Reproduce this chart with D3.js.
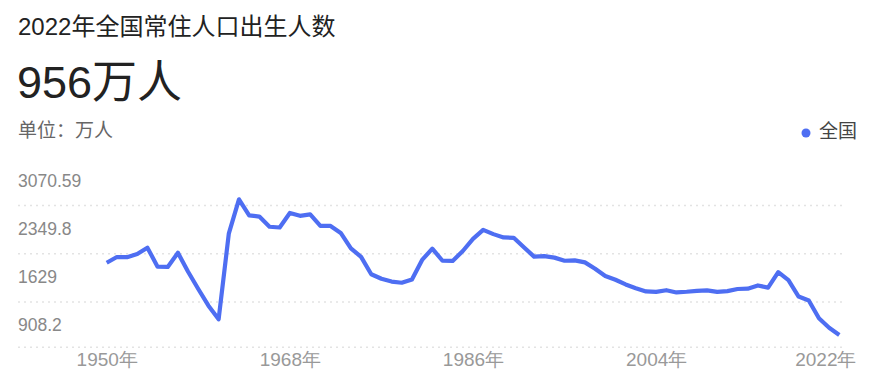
<!DOCTYPE html>
<html>
<head>
<meta charset="utf-8">
<script src="https://cdn.jsdelivr.net/npm/d3@7"></script>
<style>
  body { margin: 0; background: #fff; }
  svg { display: block; font-family: "Liberation Sans", Arial, "Noto Sans CJK SC", sans-serif; }
</style>
</head>
<body>
<script>
// 全国常住人口出生人数 1950-2022 (万人)

const years = [
  1950, 1951, 1952, 1953, 1954, 1955, 1956, 1957, 1958, 1959,
  1960, 1961, 1962, 1963, 1964, 1965, 1966, 1967, 1968, 1969,
  1970, 1971, 1972, 1973, 1974, 1975, 1976, 1977, 1978, 1979,
  1980, 1981, 1982, 1983, 1984, 1985, 1986, 1987, 1988, 1989,
  1990, 1991, 1992, 1993, 1994, 1995, 1996, 1997, 1998, 1999,
  2000, 2001, 2002, 2003, 2004, 2005, 2006, 2007, 2008, 2009,
  2010, 2011, 2012, 2013, 2014, 2015, 2016, 2017, 2018, 2019,
  2020, 2021, 2022
];

const births = [
  2023, 2107, 2105, 2151, 2245, 1965, 1961, 2169, 1889, 1635,
  1389, 1187, 2451, 2959, 2721, 2704, 2554, 2543, 2757, 2715,
  2736, 2567, 2566, 2463, 2235, 2109, 1853, 1786, 1745, 1727,
  1776, 2064, 2230, 2052, 2050, 2196, 2374, 2508, 2445, 2396,
  2391, 2250, 2113, 2120, 2098, 2052, 2057, 2028, 1934, 1827,
  1771, 1702, 1647, 1599, 1593, 1617, 1584, 1594, 1608, 1615,
  1592, 1604, 1635, 1640, 1687, 1655, 1883, 1765, 1523, 1465,
  1202, 1062, 956
];

const xTickYears = [1950, 1968, 1986, 2004, 2022];
const yGridValues = [783, 1450, 2163, 2875];
const yTickLabels = ["908.2", "1629", "2349.8", "3070.59"];

const width = 869;
const height = 383;
const blue = "#4e6ef2";

const svg = d3.select("body").append("svg")
  .attr("width", width)
  .attr("height", height);

// header
svg.append("text")
  .attr("x", 18).attr("y", 35)
  .attr("font-size", "24px").attr("fill", "#222")
  .text("2022年全国常住人口出生人数");

svg.append("text")
  .attr("x", 17).attr("y", 98)
  .attr("font-size", "45px").attr("fill", "#222")
  .text("956万人");

svg.append("text")
  .attr("x", 18).attr("y", 137)
  .attr("font-size", "19px").attr("fill", "#666")
  .text("单位：万人");

// legend
svg.append("circle").attr("cx", 806).attr("cy", 133).attr("r", 4.5).attr("fill", blue);
svg.append("text")
  .attr("x", 819).attr("y", 138)
  .attr("font-size", "19px").attr("fill", "#444")
  .text("全国");

const x = d3.scaleLinear().domain([1950, 2022]).range([106.7, 839.3]);
const y = d3.scaleLinear().domain([783, 2875]).range([346.7, 205]);

const gridLeft = 18;
const gridRight = 842;

// y grid + labels
const yAxis = d3.axisRight(y)
  .tickValues(yGridValues)
  .tickSize(gridRight - gridLeft)
  .tickFormat((d, i) => yTickLabels[i]);

const gy = svg.append("g")
  .attr("transform", `translate(${gridLeft},0)`)
  .call(yAxis);
gy.select(".domain").remove();
gy.selectAll(".tick line")
  .attr("stroke", "#e3e3e3")
  .attr("stroke-width", 1.5)
  .attr("stroke-dasharray", "2,4");
gy.selectAll(".tick text")
  .attr("x", 0)
  .attr("dy", (d, i) => (i === 0 ? -21 : -23.5))
  .attr("dominant-baseline", "middle")
  .attr("text-anchor", "start")
  .attr("font-family", null)
  .attr("font-size", "17.5px")
  .attr("fill", "#888");

// x axis labels
const xAxis = d3.axisBottom(x)
  .tickValues(xTickYears)
  .tickSize(0)
  .tickPadding(0)
  .tickFormat((d) => d + "年");

const gx = svg.append("g")
  .attr("transform", "translate(0,352)")
  .call(xAxis);
gx.select(".domain").remove();
gx.selectAll(".tick text")
  .attr("dy", "0.75em")
  .attr("font-family", null)
  .attr("font-size", "19px")
  .attr("fill", "#999")
  .each(function (d) {
    const bb = this.getBBox();
    const over = x(d) + bb.width / 2 - 856;
    if (over > 0) d3.select(this).attr("x", -over);
  });

// line
const line = d3.line()
  .x((d, i) => x(years[i]))
  .y((d) => y(d));

svg.append("path")
  .datum(births)
  .attr("fill", "none")
  .attr("stroke", blue)
  .attr("stroke-width", 4.2)
  .attr("stroke-linejoin", "round")
  .attr("stroke-linecap", "butt")
  .attr("d", line);
</script>
</body>
</html>
